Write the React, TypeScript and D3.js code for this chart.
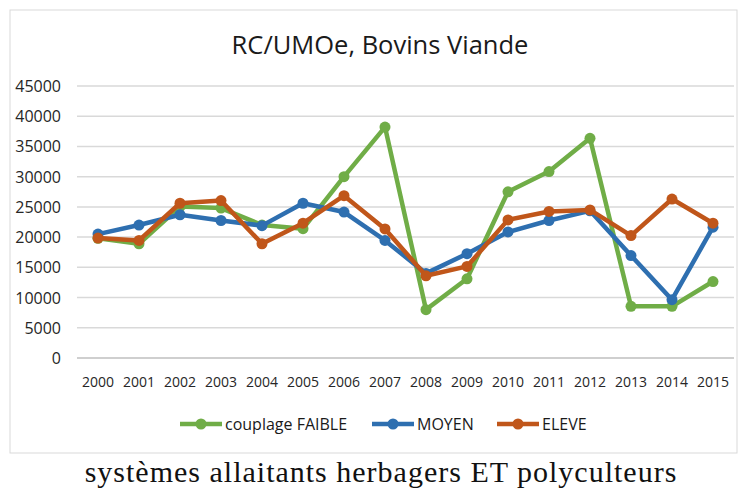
import React, { useRef, useEffect } from "react"
import * as d3 from "d3"

const years = ["2000", "2001", "2002", "2003", "2004", "2005", "2006", "2007", "2008", "2009", "2010", "2011", "2012", "2013", "2014", "2015"]
const faible = [19800, 18900, 25050, 24800, 22000, 21400, 30000, 38200, 8000, 13100, 27500, 30850, 36350, 8550, 8550, 12650]
const moyen = [20500, 22000, 23700, 22750, 21900, 25600, 24150, 19450, 14000, 17250, 20850, 22750, 24350, 16950, 9650, 21650]
const eleve = [19850, 19450, 25600, 26050, 18900, 22300, 26850, 21350, 13600, 15150, 22850, 24250, 24500, 20250, 26300, 22300]
const yTicks = [0, 5000, 10000, 15000, 20000, 25000, 30000, 35000, 40000, 45000]

const series = [
  { name: "couplage FAIBLE", values: faible, color: "#70ad47" },
  { name: "MOYEN", values: moyen, color: "#2e6fb0" },
  { name: "ELEVE", values: eleve, color: "#c0561a" },
]

const App = () => {
  const svgRef = useRef(null)

  useEffect(() => {
    const svg = d3.select(svgRef.current)
    svg.selectAll("*").remove()

    const sans = "'Open Sans', sans-serif"

    svg.append("rect")
      .attr("x", 10).attr("y", 10).attr("width", 727).attr("height", 443)
      .attr("fill", "#fff").attr("stroke", "#d9d9d9").attr("stroke-width", 1)

    svg.append("text")
      .attr("x", 380).attr("y", 54)
      .attr("text-anchor", "middle")
      .style("font-family", sans).style("font-size", "25.5px").attr("fill", "#1a1a1a")
      .text("RC/UMOe, Bovins Viande")

    const x = d3.scalePoint().domain(years).range([98, 713])
    const y = d3.scaleLinear().domain([0, 45000]).range([358, 86])

    // grid
    svg.append("g")
      .selectAll("line")
      .data(yTicks)
      .enter()
      .append("line")
      .attr("x1", 77).attr("x2", 734)
      .attr("y1", (d) => y(d)).attr("y2", (d) => y(d))
      .attr("stroke", (d) => (d === 0 ? "#bfbfbf" : "#d9d9d9"))
      .attr("stroke-width", 1.5)

    // y labels
    svg.append("g")
      .selectAll("text")
      .data(yTicks)
      .enter()
      .append("text")
      .attr("x", 61).attr("y", (d) => y(d) + 6)
      .attr("text-anchor", "end")
      .style("font-family", sans).style("font-size", "16px").attr("fill", "#262626")
      .text((d) => d)

    // x labels
    svg.append("g")
      .selectAll("text")
      .data(years)
      .enter()
      .append("text")
      .attr("x", (d) => x(d)).attr("y", 387)
      .attr("text-anchor", "middle")
      .style("font-family", sans).style("font-size", "14px").attr("fill", "#262626")
      .text((d) => d)

    const line = d3.line().x((d, i) => x(years[i])).y((d) => y(d))

    series.forEach((s) => {
      const g = svg.append("g")
      g.append("path")
        .datum(s.values)
        .attr("d", line)
        .attr("fill", "none")
        .attr("stroke", s.color)
        .attr("stroke-width", 4.5)
        .attr("stroke-linejoin", "round")
      g.selectAll("circle")
        .data(s.values)
        .enter()
        .append("circle")
        .attr("cx", (d, i) => x(years[i]))
        .attr("cy", (d) => y(d))
        .attr("r", 5.5)
        .attr("fill", s.color)
    })

    // legend
    const legendPos = [180, 372, 497]
    series.forEach((s, i) => {
      const lx = legendPos[i]
      const g = svg.append("g")
      g.append("line")
        .attr("x1", lx).attr("x2", lx + 42).attr("y1", 424).attr("y2", 424)
        .attr("stroke", s.color).attr("stroke-width", 4.5)
      g.append("circle").attr("cx", lx + 21).attr("cy", 424).attr("r", 5.5).attr("fill", s.color)
      g.append("text")
        .attr("x", lx + 45).attr("y", 430)
        .style("font-family", sans).style("font-size", "16px").attr("fill", "#1a1a1a")
        .text(s.name)
    })

    svg.append("text")
      .attr("x", 381).attr("y", 482)
      .attr("text-anchor", "middle")
      .style("font-family", "'Liberation Serif', serif").style("font-size", "30px")
      .style("letter-spacing", "1px").attr("fill", "#111")
      .text("systèmes allaitants herbagers ET polyculteurs")
  }, [])

  return (
    <svg ref={svgRef} width={740} height={491} style={{ position: "absolute", left: 0, top: 0, background: "#fff" }}></svg>
  )
}

export default App
